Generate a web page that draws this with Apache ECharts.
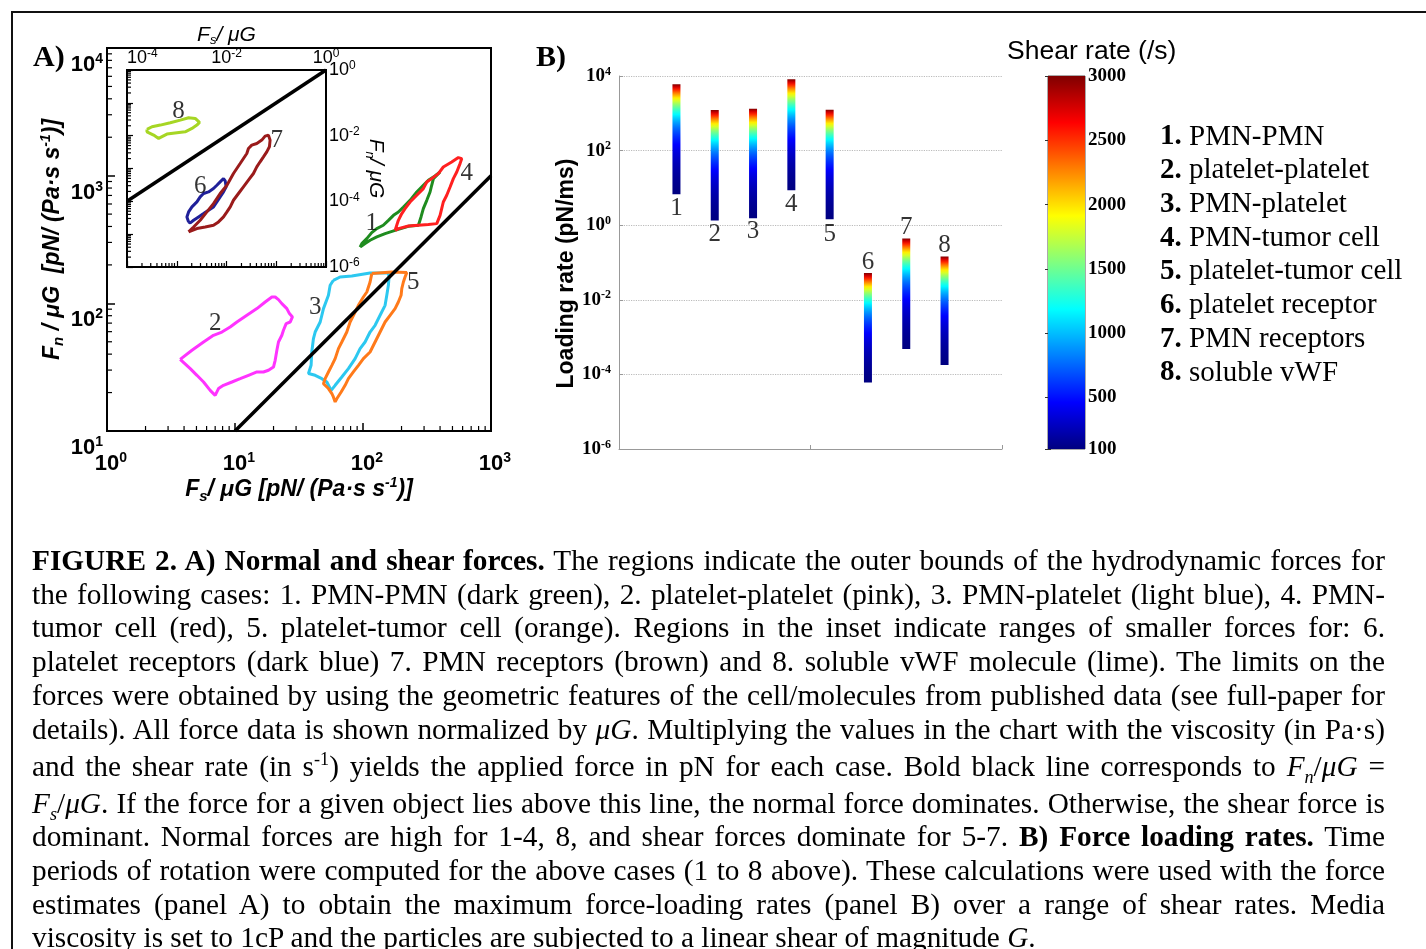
<!DOCTYPE html>
<html>
<head>
<meta charset="utf-8">
<script src="https://cdn.jsdelivr.net/npm/echarts@6.0.0/dist/echarts.min.js"></script>
<style>
html,body{margin:0;padding:0;background:#fff;}
#chart{position:absolute;left:0;top:0;width:1426px;height:949px;}
.cap{position:absolute;left:32px;width:1353px;height:34px;line-height:34px;font-family:'Liberation Serif',serif;font-size:29.3px;color:#000;text-align:justify;text-align-last:justify;}
.cap.last{text-align-last:left;}
.cap sub,.cap sup{line-height:0;font-size:62%;}
</style>
</head>
<body>
<div id="chart"></div>
<div class="cap" style="top:543px"><b>FIGURE 2. A) Normal and shear forces.</b> The regions indicate the outer bounds of the hydrodynamic forces for</div>
<div class="cap" style="top:577px">the following cases: 1. PMN-PMN (dark green), 2. platelet-platelet (pink), 3. PMN-platelet (light blue), 4. PMN-</div>
<div class="cap" style="top:610px">tumor cell (red), 5. platelet-tumor cell (orange). Regions in the inset indicate ranges of smaller forces for: 6.</div>
<div class="cap" style="top:644px">platelet receptors (dark blue) 7. PMN receptors (brown) and 8. soluble vWF molecule (lime). The limits on the</div>
<div class="cap" style="top:678px">forces were obtained by using the geometric features of the cell/molecules from published data (see full-paper for</div>
<div class="cap" style="top:712px">details). All force data is shown normalized by <i>μG</i>. Multiplying the values in the chart with the viscosity (in Pa·s)</div>
<div class="cap" style="top:749px">and the shear rate (in s<sup>-1</sup>) yields the applied force in pN for each case. Bold black line corresponds to <i>F<sub>n</sub></i>/<i>μG</i> =</div>
<div class="cap" style="top:786px"><i>F<sub>s</sub></i>/<i>μG</i>. If the force for a given object lies above this line, the normal force dominates. Otherwise, the shear force is</div>
<div class="cap" style="top:819px">dominant. Normal forces are high for 1-4, 8, and shear forces dominate for 5-7. <b>B) Force loading rates.</b> Time</div>
<div class="cap" style="top:853px">periods of rotation were computed for the above cases (1 to 8 above). These calculations were used with the force</div>
<div class="cap" style="top:887px">estimates (panel A) to obtain the maximum force-loading rates (panel B) over a range of shear rates. Media</div>
<div class="cap last" style="top:920px">viscosity is set to 1cP and the particles are subjected to a linear shear of magnitude <i>G</i>.</div>
<script>
// panel A, main plot : outlines [Fs/uG, Fn/uG]
var pmnPmn = [[94.9,276],[103.8,294],[113.6,312],[128.2,331],[148.8,352],[178.1,373],[226,401],[271,409],[284,475],[296,552],[315,641],[334,745],[344,841],[355,948],[400,1068],[365,994],[324,920],[296,841],[263,745],[233,641],[207,568],[189,519],[173,489],[158,447],[144,409],[128,385],[117,358],[107,321],[97.9,294]];
var platPlat = [[3.73,36.4],[4.61,42.9],[5.68,49.8],[6.79,56.2],[7.9,59.6],[9.17,65.3],[10.35,71.4],[12.38,80.6],[14.83,90.9],[17.21,102.4],[19.42,112.1],[20.6,112.1],[21.86,106.9],[23.23,99.5],[25.42,90.9],[26.63,83.1],[28.11,78.2],[26.97,71.4],[25.1,69.4],[23.91,61.5],[23.23,56.2],[21.86,49.8],[21.24,42.9],[20.6,35.8],[19.98,31.7],[18.26,29.9],[16.69,29],[14.83,29],[12.75,27.3],[10.98,25.7],[9.46,24.2],[8.13,22.8],[7.43,21.5],[7,19],[6.4,20.8],[5.68,24.2],[5.04,27.3],[4.47,30.8]];
var pmnPlat = [[58.7,151.5],[66.2,160.8],[81.8,163.8],[113.6,172.9],[157.9,172.9],[159.8,160.8],[157.9,138.4],[153.4,115.6],[148.8,96.5],[136,80.6],[124.3,67.3],[113.6,59.6],[103.8,49.8],[94.9,44.2],[86.8,36.9],[76.9,30.8],[68.3,26.5],[60.6,22.8],[56.4,20.8],[52.2,24.2],[47.7,25.7],[42.3,27.3],[37.5,28.2],[39.3,32.7],[39.8,41.6],[41,52.9],[42.3,59.6],[46.3,71.4],[49.1,90.9],[53.7,115.6],[55.4,138.4]];
var pmnTumor = [[178.1,373],[183.5,409],[188.9,447],[200.9,505],[213.1,552],[233.2,622],[263,702],[296,792],[315,892],[344,948],[388,1038],[424,1169],[493,1279],[556,1385],[591,1360],[573,1243],[540,1068],[508,948],[479,815],[451,702],[424,622],[412,552],[400,489],[377,421],[324,414],[271,409],[226,403],[189,385]];
var platTumor = [[117.1,171],[120.5,176],[167.8,176],[219.8,174.1],[213.1,160.8],[206.8,146.9],[200.9,130.5],[198.4,115.6],[188.9,102.4],[178.1,90.9],[162.8,80.6],[148.8,71.4],[136,59.6],[124.3,49.8],[113.6,41.6],[100.7,36.9],[92.1,32.7],[84.1,29],[76.9,25.7],[72.5,22.8],[67.5,20.2],[62.4,17.9],[60.6,16.9],[58.7,18.5],[57.1,19.6],[53.7,21.5],[49.1,23.5],[50.6,25.7],[53.7,29],[57.1,32.7],[60.6,36.9],[64.3,44.2],[68.3,49.8],[74.7,59.6],[79.3,71.4],[86.8,85.5],[92.1,96.5],[100.7,112.1],[107.1,122.7],[113.6,146.9]];
var mainDiag = [[10,10],[1000,1000]];
var mainLabelNames = ['1','2','3','4','5'];
var mainLabelX = [117, 7.0, 42.3, 646, 247];
var mainLabelY = [421, 69.4, 93.4, 1038, 147];

// panel A, inset : smaller forces
var pltReceptor = [[1.73e-3,2.36e-5],[1.6e-3,3.35e-5],[1.73e-3,4.76e-5],[2.02e-3,6.77e-5],[2.54e-3,9.61e-5],[2.96e-3,1.37e-4],[3.46e-3,1.73e-4],[4.35e-3,1.94e-4],[5.48e-3,2.45e-4],[6.4e-3,3.1e-4],[7.46e-3,3.92e-4],[8.71e-3,4.95e-4],[9.4e-3,4.2e-4],[9.85e-3,2.76e-4],[8.71e-3,1.94e-4],[7.46e-3,1.37e-4],[6.4e-3,9.61e-5],[5.48e-3,6.77e-5],[4.35e-3,5.36e-5],[3.46e-3,4.24e-5],[2.74e-3,3.35e-5],[2.18e-3,2.65e-5],[1.87e-3,2.2e-5]];
var pmnReceptor = [[1.73e-3,1.17e-5],[2.18e-3,1.66e-5],[2.96e-3,2.65e-5],[4.03e-3,4.76e-5],[5.48e-3,8.55e-5],[7.46e-3,1.73e-4],[1.02e-2,3.1e-4],[1.38e-2,7.04e-4],[1.88e-2,1.42e-3],[2.56e-2,2.87e-3],[2.76e-2,4.07e-3],[3.22e-2,5.15e-3],[4.06e-2,5.79e-3],[5.12e-2,7.32e-3],[5.97e-2,9.69e-3],[6.96e-2,1.04e-2],[7.52e-2,7.32e-3],[7.29e-2,4.58e-3],[6.45e-2,3.22e-3],[5.53e-2,2.27e-3],[4.74e-2,1.6e-3],[4.06e-2,1.12e-3],[3.48e-2,7.04e-4],[2.76e-2,4.41e-4],[2.19e-2,2.76e-4],[1.74e-2,1.73e-4],[1.38e-2,1.08e-4],[1.19e-2,6.77e-5],[1.02e-2,4.76e-5],[8.71e-3,3.35e-5],[6.91e-3,2.36e-5],[5.48e-3,1.87e-5],[3.73e-3,1.66e-5],[2.54e-3,1.48e-5]];
var vwf = [[2.52e-4,1.55e-2],[3.18e-4,1.87e-2],[4.67e-4,2.1e-2],[7.41e-4,2.47e-2],[1.18e-3,2.98e-2],[1.73e-3,3.51e-2],[2.35e-3,3.35e-2],[2.87e-3,2.53e-2],[2.54e-3,2.1e-2],[2.02e-3,1.66e-2],[1.48e-3,1.31e-2],[1.01e-3,1.23e-2],[6.35e-4,1.12e-2],[4.32e-4,8.23e-3],[3.43e-4,1.04e-2],[2.52e-4,1.31e-2]];
var insetDiag = [[1e-4,1e-4],[1,1]];
var insetLabelNames = ['6','7','8'];
var insetLabelX = [2.96e-3, 0.102, 1.09e-3];
var insetLabelY = [2.89e-4, 7.3e-3, 5.36e-2];

// panel B : loading rate range per case (pN/ms)
var caseIds = ['1','2','3','4','5','6','7','8'];
var barX = [1.5, 2.5, 3.5, 4.5, 5.5, 6.5, 7.5, 8.5];
var barLow = [6.8, 1.33, 1.54, 8.7, 1.45, 6.1e-5, 4.8e-4, 1.8e-4];
var barHigh = [6000, 1230, 1330, 8130, 1250, 0.052, 0.44, 0.145];
var barLabelY = [2.84, 0.58, 0.67, 3.7, 0.55, 0.099, 0.89, 0.29];
var caseNames = ['PMN-PMN','platelet-platelet','PMN-platelet','PMN-tumor cell','platelet-tumor cell','platelet receptor','PMN receptors','soluble vWF'];

// colour bar
var shearMin = 100, shearMax = 3000;
var shearTicks = [100, 500, 1000, 1500, 2000, 2500, 3000];

var SANS = 'Liberation Sans', SERIF = 'Liberation Serif';

function jet(t) {
    t = Math.max(0, Math.min(1, t));
    function c(v) { return Math.round(255 * Math.max(0, Math.min(1, v))); }
    return 'rgb(' + c(1.5 - Math.abs(4*t - 3)) + ',' + c(1.5 - Math.abs(4*t - 2)) + ',' + c(1.5 - Math.abs(4*t - 1)) + ')';
}
var barStops = [], cbStops = [];
for (var i = 0; i <= 40; i++) {
    var f = i / 40;
    var g = shearMin * Math.pow(shearMax / shearMin, f);   // rate ~ G^2, so log position is log G
    barStops.push({offset: f, color: jet((g - shearMin) / (shearMax - shearMin))});
    cbStops.push({offset: f, color: jet(f)});
}

function closed(a) { return a.concat([a[0]]); }
function expOf(v) { return Math.round(Math.log(v) / Math.LN10); }
function powLabel(v) { return '{b|10}{s|' + expOf(v) + '}'; }
function evenPow(v) { var e = expOf(v); return e % 2 === 0 ? '{b|10}{s|' + e + '}' : ''; }

// minor log ticks 2..9 within each decade
function minorVals(lo, hi) {
    var out = [];
    for (var d = lo; d < hi; d *= 10) for (var m = 2; m <= 9; m++) out.push(d * m);
    return out;
}

function outline(data, color, xi, yi) {
    return {type: 'line', xAxisIndex: xi, yAxisIndex: yi, data: closed(data), symbol: 'none', silent: true,
        lineStyle: {color: color, width: 3}, z: 3};
}
function labels(names, xs, ys, xi, yi, size) {
    return {type: 'scatter', xAxisIndex: xi, yAxisIndex: yi, symbolSize: 1, silent: true,
        itemStyle: {color: 'rgba(0,0,0,0)'},
        data: names.map(function (n, k) { return [xs[k], ys[k], n]; }),
        label: {show: true, position: 'inside', formatter: function (p) { return p.data[2]; },
            fontFamily: SERIF, fontSize: size, color: '#000'}, z: 6};
}
function minorTicks(vals, fixed, horizontal, xi, yi, len) {
    return {type: 'custom', xAxisIndex: xi, yAxisIndex: yi, silent: true, z: 4,
        data: vals.map(function (v) { return horizontal ? [v, fixed] : [fixed, v]; }),
        renderItem: function (params, api) {
            var p = api.coord([api.value(0), api.value(1)]);
            var q = horizontal ? [p[0], p[1] - len] : [p[0] + len, p[1]];
            return {type: 'line', shape: {x1: p[0], y1: p[1], x2: q[0], y2: q[1]}, style: {stroke: '#000', lineWidth: 1.2}};
        }};
}

var mainTickRich = {b: {fontFamily: SANS, fontWeight: 'bold', fontSize: 22, lineHeight: 26, color: '#000'},
    s: {fontFamily: SANS, fontWeight: 'bold', fontSize: 14, lineHeight: 14, verticalAlign: 'top', color: '#000'}};
var insetTickRich = {b: {fontFamily: SANS, fontSize: 18, lineHeight: 20, color: '#000'},
    s: {fontFamily: SANS, fontSize: 12, lineHeight: 12, verticalAlign: 'top', color: '#000'}};
var bTickRich = {b: {fontFamily: SERIF, fontWeight: 'bold', fontSize: 19, lineHeight: 21, color: '#000'},
    s: {fontFamily: SERIF, fontWeight: 'bold', fontSize: 12, lineHeight: 12, verticalAlign: 'top', color: '#000'}};
var nameRichBold = {i: {fontFamily: SANS, fontWeight: 'bold', fontStyle: 'italic', fontSize: 23, lineHeight: 28, color: '#000'},
    sub: {fontFamily: SANS, fontWeight: 'bold', fontStyle: 'italic', fontSize: 15, lineHeight: 15, verticalAlign: 'bottom', color: '#000'},
    sup: {fontFamily: SANS, fontWeight: 'bold', fontStyle: 'italic', fontSize: 14, lineHeight: 14, verticalAlign: 'top', color: '#000'}};
var nameRichInset = {i: {fontFamily: SANS, fontStyle: 'italic', fontSize: 21, lineHeight: 24, color: '#000'},
    sub: {fontFamily: SANS, fontStyle: 'italic', fontSize: 13, lineHeight: 13, verticalAlign: 'bottom', color: '#000'}};

var blackLine = {lineStyle: {color: '#000', width: 2}};
var grayLine = {lineStyle: {color: '#999', width: 1}};

var chart = echarts.init(document.getElementById('chart'), null, {renderer: 'canvas'});
var option = {
    animation: false,
    backgroundColor: '#fff',
    grid: [
        {left: 107, top: 48, width: 384, height: 383, show: true, borderColor: '#000', borderWidth: 2},
        {left: 127, top: 70, width: 199, height: 197, show: true, borderColor: '#000', borderWidth: 2, backgroundColor: '#fff'},
        {left: 619, top: 76, width: 383, height: 373},
        {left: 1048, top: 76, width: 37, height: 373, show: true, borderColor: '#555', borderWidth: 1}
    ],
    xAxis: [
        {gridIndex: 0, type: 'log', logBase: 10, min: 1, max: 1000, position: 'bottom',
            axisLine: blackLine, axisTick: {inside: true, length: 8, lineStyle: {color: '#000', width: 1.5}},
            axisLabel: {margin: 20, padding: [0, 0, 0, 8], formatter: powLabel, rich: mainTickRich}, splitLine: {show: false},
            name: '{i|F}{sub|s}{i|/ μG [pN/ (Pa·s s}{sup|-1}{i|)]}', nameLocation: 'middle', nameGap: 45,
            nameTextStyle: {rich: nameRichBold}},
        {gridIndex: 1, type: 'log', logBase: 10, min: 1e-4, max: 1, position: 'bottom',
            axisLine: blackLine, axisTick: {inside: true, length: 6, lineStyle: {color: '#000', width: 1.2}},
            axisLabel: {show: false}, splitLine: {show: false}},
        {gridIndex: 1, type: 'log', logBase: 10, min: 1e-4, max: 1, position: 'top',
            axisLine: {show: false}, axisTick: {show: false},
            axisLabel: {margin: 2, formatter: evenPow, rich: insetTickRich, alignMinLabel: 'left'}, splitLine: {show: false},
            name: '{i|F}{sub|s}{i|/ μG}', nameLocation: 'middle', nameGap: 22, nameTextStyle: {rich: nameRichInset}},
        {gridIndex: 2, type: 'value', min: 0, max: 10, interval: 5,
            axisLine: grayLine, axisTick: {inside: true, length: 4, lineStyle: {color: '#999'}},
            axisLabel: {show: false}, splitLine: {show: false}},
        {gridIndex: 3, type: 'value', min: 0, max: 1, show: false}
    ],
    yAxis: [
        {gridIndex: 0, type: 'log', logBase: 10, min: 10, max: 10000, position: 'left',
            axisLine: blackLine, axisTick: {inside: true, length: 8, lineStyle: {color: '#000', width: 1.5}},
            axisLabel: {margin: 4, verticalAlign: 'top', padding: [4, 0, 0, 0], formatter: powLabel, rich: mainTickRich}, splitLine: {show: false},
            name: '{i|F}{sub|n}{i| / μG  [pN/ (Pa·s s}{sup|-1}{i|)]}', nameLocation: 'middle', nameGap: 38, nameRotate: 90,
            nameTextStyle: {rich: nameRichBold}},
        {gridIndex: 1, type: 'log', logBase: 10, min: 1e-6, max: 1, position: 'left',
            axisLine: blackLine, axisTick: {inside: true, length: 6, lineStyle: {color: '#000', width: 1.2}},
            axisLabel: {show: false}, splitLine: {show: false}},
        {gridIndex: 1, type: 'log', logBase: 10, min: 1e-6, max: 1, position: 'right',
            axisLine: {show: false}, axisTick: {show: false},
            axisLabel: {margin: 3, formatter: evenPow, rich: insetTickRich}, splitLine: {show: false},
            name: '{i|F}{sub|n}{i|/ μG}', nameLocation: 'middle', nameGap: 37, nameRotate: -90, nameTextStyle: {rich: nameRichInset}},
        {gridIndex: 2, type: 'log', logBase: 10, min: 1e-6, max: 1e4, interval: 2, position: 'left',
            axisLine: grayLine, axisTick: {inside: true, length: 4, lineStyle: {color: '#999'}},
            axisLabel: {margin: 8, formatter: powLabel, rich: bTickRich},
            splitLine: {show: true, lineStyle: {color: '#bbb', type: 'dotted', width: 1.2}},
            name: 'Loading rate (pN/ms)', nameLocation: 'middle', nameGap: 39, nameRotate: 90,
            nameTextStyle: {fontFamily: SANS, fontWeight: 'bold', fontSize: 23, color: '#000', padding: [0, 22, 0, 0]}},
        {gridIndex: 3, type: 'value', min: shearMin, max: shearMax, position: 'right',
            axisLine: {show: false}, axisTick: {inside: true, length: 3, customValues: shearTicks, lineStyle: {color: '#333'}},
            axisLabel: {margin: 3, customValues: shearTicks, formatter: function (v) { return String(v); },
                fontFamily: SERIF, fontWeight: 'bold', fontSize: 19, color: '#000'},
            splitLine: {show: false}},
        {gridIndex: 3, type: 'value', min: shearMin, max: shearMax, position: 'left',
            axisLine: {show: false}, axisTick: {inside: true, length: 3, customValues: shearTicks, lineStyle: {color: '#333'}},
            axisLabel: {show: false}, splitLine: {show: false}}
    ],
    series: [
        // main plot
        minorTicks(minorVals(1, 1000), 10, true, 0, 0, 5),
        minorTicks(minorVals(10, 10000), 1, false, 0, 0, 5),
        outline(platPlat, '#ff33ff', 0, 0),
        outline(pmnPlat, '#2cc8f0', 0, 0),
        outline(platTumor, '#ff7a1a', 0, 0),
        outline(pmnPmn, '#1f8c1f', 0, 0),
        outline(pmnTumor, '#ff2020', 0, 0),
        {type: 'line', xAxisIndex: 0, yAxisIndex: 0, data: mainDiag, symbol: 'none', silent: true,
            lineStyle: {color: '#000', width: 3.5}, z: 5},
        labels(mainLabelNames, mainLabelX, mainLabelY, 0, 0, 25),
        // inset
        minorTicks(minorVals(1e-4, 1), 1e-6, true, 1, 1, 4),
        minorTicks(minorVals(1e-6, 1), 1e-4, false, 1, 1, 4),
        outline(vwf, '#a6d624', 1, 1),
        outline(pltReceptor, '#202099', 1, 1),
        outline(pmnReceptor, '#9a1b1b', 1, 1),
        {type: 'line', xAxisIndex: 1, yAxisIndex: 1, data: insetDiag, symbol: 'none', silent: true,
            lineStyle: {color: '#000', width: 3.5}, z: 5},
        labels(insetLabelNames, insetLabelX, insetLabelY, 1, 1, 25),
        // panel B
        {type: 'custom', xAxisIndex: 3, yAxisIndex: 3, silent: true,
            data: caseIds.map(function (id, k) { return [barX[k], barLow[k], barHigh[k]]; }),
            renderItem: function (params, api) {
                var lo = api.coord([api.value(0), api.value(1)]);
                var hi = api.coord([api.value(0), api.value(2)]);
                return {type: 'rect', shape: {x: lo[0] - 4, y: hi[1], width: 8, height: lo[1] - hi[1]},
                    style: {fill: new echarts.graphic.LinearGradient(0, 1, 0, 0, barStops)}};
            }},
        labels(caseIds, barX, barLabelY, 3, 3, 25),
        // colour bar
        {type: 'custom', xAxisIndex: 4, yAxisIndex: 4, silent: true, data: [[0, shearMin, 1, shearMax]],
            renderItem: function (params, api) {
                var a = api.coord([api.value(0), api.value(1)]);
                var b = api.coord([api.value(2), api.value(3)]);
                return {type: 'rect', shape: {x: a[0], y: b[1], width: b[0] - a[0], height: a[1] - b[1]},
                    style: {fill: new echarts.graphic.LinearGradient(0, 1, 0, 0, cbStops)}};
            }}
    ],
    graphic: [
        {type: 'polyline', shape: {points: [[12, 949], [12, 12], [1426, 12]]}, style: {stroke: '#111', lineWidth: 2, fill: null}, silent: true},
        {type: 'text', x: 33, y: 58, style: {text: 'A)', fontFamily: SERIF, fontWeight: 'bold', fontSize: 30, fill: '#000', verticalAlign: 'middle'}},
        {type: 'text', x: 536, y: 58, style: {text: 'B)', fontFamily: SERIF, fontWeight: 'bold', fontSize: 30, fill: '#000', verticalAlign: 'middle'}},
        {type: 'text', x: 1007, y: 52, style: {text: 'Shear rate (/s)', fontFamily: SANS, fontSize: 26.5, fill: '#000', verticalAlign: 'middle'}}
    ].concat(caseNames.map(function (n, k) {
        return {type: 'text', x: 1160, y: 137 + 33.7 * k, silent: true,
            style: {text: '{b|' + caseIds[k] + '.}{n| ' + n + '}', verticalAlign: 'middle',
                rich: {b: {fontFamily: SERIF, fontWeight: 'bold', fontSize: 29, fill: '#000'},
                    n: {fontFamily: SERIF, fontSize: 29, fill: '#000'}}}};
    }))
};
chart.setOption(option);
</script>
</body>
</html>
